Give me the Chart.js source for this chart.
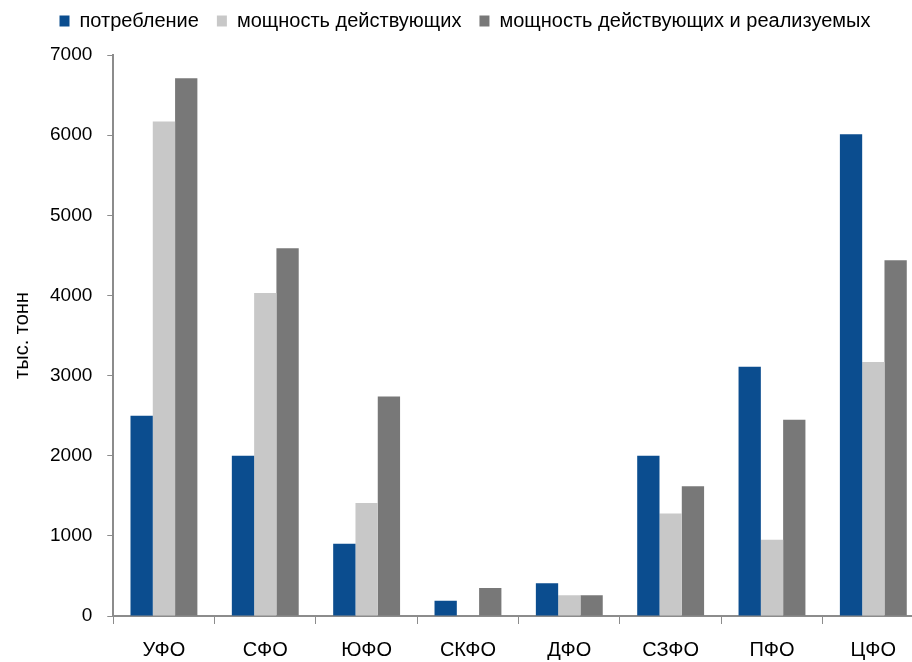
<!DOCTYPE html>
<html>
<head>
<meta charset="utf-8">
<script src="https://cdn.jsdelivr.net/npm/chart.js@4"></script>
<style>
  html, body { margin: 0; padding: 0; background: #fff; overflow: hidden; }
  #wrap { width: 912px; height: 662px; overflow: hidden; }
</style>
</head>
<body>
<div id="wrap"><canvas id="regionChart" width="924" height="662"></canvas></div>
<script>
// Data (тыс. тонн)
const regions = ['УФО', 'СФО', 'ЮФО', 'СКФО', 'ДФО', 'СЗФО', 'ПФО', 'ЦФО'];
const consumption = [2500, 2000, 900, 190, 410, 2000, 3110, 6010];
const capacityActive = [6170, 4030, 1410, 0, 260, 1280, 950, 3170];
const capacityPlanned = [6710, 4590, 2740, 350, 260, 1620, 2450, 4440];
const yTicks = [0, 1000, 2000, 3000, 4000, 5000, 6000, 7000];

document.addEventListener('DOMContentLoaded', function() {
  const ctx = document.getElementById('regionChart').getContext('2d');

  const axisColor = '#8c8c8c';

  // extra room between legend and plot
  const legendGap = {
    id: 'legendGap',
    beforeInit: function(chart) {
      const origFit = chart.legend.fit;
      chart.legend.fit = function() {
        origFit.bind(chart.legend)();
        this.height += 14;
      };
    }
  };

  const data = {
    labels: regions,
    datasets: [
      { label: 'потребление', data: consumption, backgroundColor: '#0b4d8f' },
      { label: 'мощность действующих', data: capacityActive, backgroundColor: '#c8c8c8' },
      { label: 'мощность действующих и реализуемых', data: capacityPlanned, backgroundColor: '#787878' }
    ]
  };

  const config = {
    type: 'bar',
    data: data,
    plugins: [legendGap],
    options: {
      responsive: false,
      animation: false,
      layout: { padding: { top: -7, right: 0, left: 6, bottom: -14 } },
      datasets: {
        bar: { categoryPercentage: 0.66, barPercentage: 1.0 }
      },
      scales: {
        x: {
          offset: true,
          grid: { display: true, drawOnChartArea: false, drawTicks: true, tickLength: 8, color: axisColor, offset: true },
          border: { color: axisColor, width: 2 },
          ticks: { color: '#000', font: { family: 'Liberation Sans', size: 20 }, padding: 14 }
        },
        y: {
          min: 0,
          max: 7000,
          afterBuildTicks: function(axis) {
            axis.ticks = yTicks.map(v => ({ value: v }));
          },
          grid: { display: true, drawOnChartArea: false, drawTicks: true, tickLength: 6, color: axisColor },
          border: { color: axisColor, width: 2 },
          ticks: {
            color: '#000',
            font: { family: 'Liberation Sans', size: 19 },
            padding: 15,
            callback: function(value) { return String(value); }
          },
          title: {
            display: true,
            text: 'тыс. тонн',
            color: '#000',
            font: { family: 'Liberation Sans', size: 20 },
            padding: { top: 4, bottom: 1 }
          }
        }
      },
      plugins: {
        legend: {
          position: 'top',
          align: 'center',
          labels: {
            boxWidth: 10,
            boxHeight: 11,
            padding: 18,
            color: '#000',
            font: { family: 'Liberation Sans', size: 20 }
          }
        },
        tooltip: { enabled: false }
      }
    }
  };

  new Chart(ctx, config);
});
</script>
</body>
</html>
